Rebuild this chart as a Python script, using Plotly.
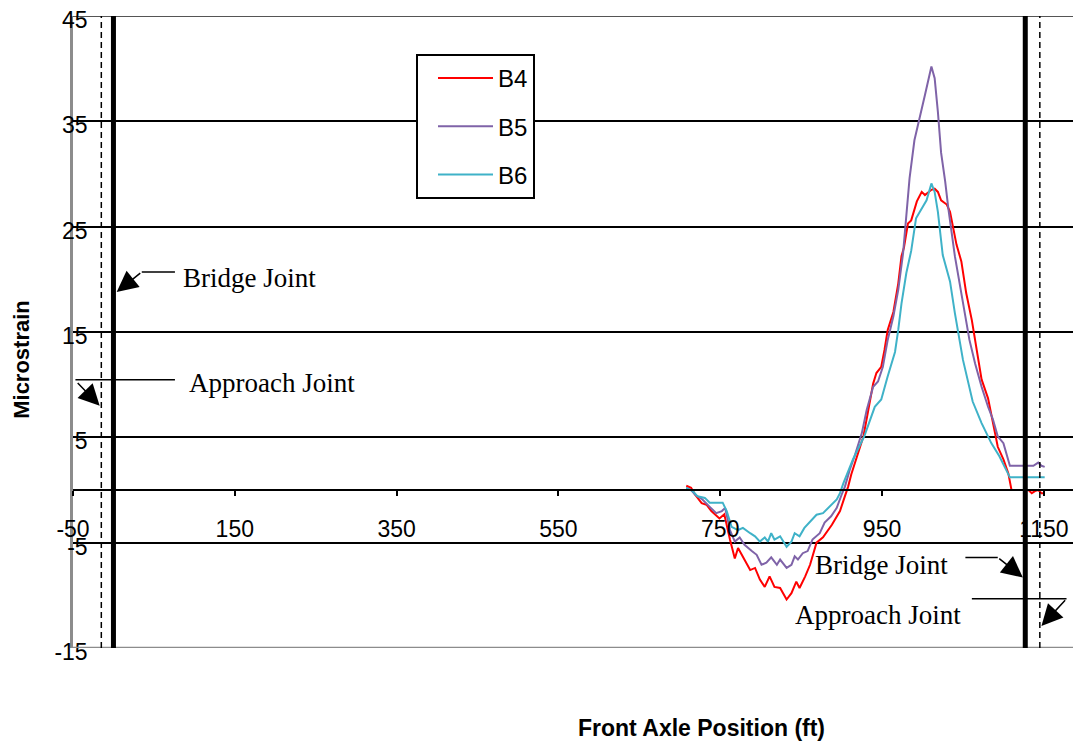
import plotly.graph_objects as go

# ---------------- data ----------------
b4_x = [708, 714, 719, 727, 733, 739, 749, 755, 762, 768, 772, 778, 787, 793, 799, 805, 811, 817,
        824, 832, 838, 844, 848, 855, 861, 869, 877, 888, 898, 904, 908, 912, 918, 927, 933, 939,
        943, 949, 953, 957, 964, 970, 974, 977, 982, 986, 993, 999, 1003, 1007, 1011, 1015, 1019,
        1023, 1030, 1034, 1038, 1042, 1048, 1054, 1061, 1067, 1073, 1081, 1087, 1093, 1100, 1106,
        1110, 1131, 1135, 1139, 1143, 1147, 1151]
b4_y = [0.4, 0.2, -0.45, -1.25, -1.4, -2.0, -2.7, -2.3, -4.7, -6.5, -5.5, -6.3, -7.6, -7.4, -8.5,
        -9.2, -8.2, -9.2, -9.3, -10.4, -9.8, -8.7, -9.3, -8.2, -7.1, -5.0, -4.5, -3.3, -2.0, -0.6,
        0.3, 1.5, 2.9, 5.1, 7.6, 10.1, 11.1, 11.7, 13.3, 15.2, 16.9, 19.6, 22.2, 23.0, 25.3, 25.6,
        27.4, 28.3, 28.0, 28.3, 28.5, 28.6, 28.3, 27.5, 27.1, 26.4, 24.8, 23.3, 21.7, 18.7, 16.1,
        13.3, 10.5, 8.7, 6.35, 4.1, 2.9, 1.6, 0.0, 0.0, -0.3, -0.1, 0.0, -0.3, -0.3]

b5_x = [708, 714, 719, 728, 737, 745, 752, 756, 762, 768, 774, 780, 789, 795, 801, 807, 813, 820,
        824, 832, 838, 842, 846, 852, 858, 864, 873, 879, 887, 894, 900, 904, 910, 916, 925, 931,
        939, 945, 951, 957, 964, 970, 976, 984, 990, 997, 1003, 1011, 1015, 1019, 1023, 1028, 1032,
        1040, 1046, 1052, 1058, 1065, 1073, 1081, 1087, 1093, 1100, 1108, 1137, 1143, 1147, 1151]
b5_y = [0.2, 0.0, -0.45, -0.9, -1.6, -2.2, -2.0, -1.7, -3.8, -4.9, -4.5, -5.2, -5.8, -6.15, -7.1,
        -6.9, -6.4, -7.1, -6.6, -7.4, -7.1, -6.3, -6.6, -6.0, -5.8, -4.7, -4.1, -3.1, -2.5, -1.7,
        -0.45, 0.3, 1.9, 3.2, 5.4, 7.6, 9.8, 10.3, 11.7, 14.25, 16.5, 19.0, 22.5, 29.6, 33.2, 35.4,
        37.5, 40.2, 39.1, 35.9, 32.0, 29.3, 26.7, 22.2, 19.6, 16.8, 14.25, 12.0, 9.8, 7.9, 6.7, 5.1,
        4.45, 2.3, 2.3, 2.6, 2.3, 2.2]

b6_x = [708, 716, 722, 731, 737, 753, 758, 764, 772, 778, 787, 793, 799, 805, 809, 813, 817, 824,
        832, 838, 842, 848, 854, 863, 869, 877, 885, 894, 898, 902, 914, 928, 941, 949, 957, 966,
        970, 974, 980, 986, 992, 999, 1005, 1011, 1015, 1019, 1023, 1025, 1034, 1040, 1050, 1062,
        1073, 1079, 1085, 1095, 1108, 1151]
b6_y = [0.2, -0.1, -0.6, -0.75, -1.2, -1.2, -2.0, -3.5, -3.8, -3.6, -4.1, -4.4, -4.9, -4.5, -4.9,
        -4.1, -4.7, -4.4, -5.4, -4.9, -4.1, -4.4, -3.6, -2.8, -2.35, -2.2, -1.6, -0.9, -0.3, 0.6,
        2.9, 5.1, 7.9, 8.6, 10.8, 13.1, 15.2, 17.7, 20.6, 22.7, 25.8, 26.7, 27.5, 29.1, 28.3, 26.4,
        23.6, 22.3, 19.8, 16.8, 12.35, 8.4, 6.35, 5.4, 4.45, 3.2, 1.2, 1.2]

series_names = ["B4", "B5", "B6"]
series_colors = ["#FF0000", "#7F63A8", "#3FB2C8"]

bridge_joints = [0, 1127]       # ft, thick solid lines
approach_joints = [-15, 1145]   # ft, dashed lines

x_range = [-50, 1186]
y_range = [-15, 45]
x_tickvals = [-50, 150, 350, 550, 750, 950, 1150]
x_ticktext = ["-50", "150", "350", "550", "750", "950", "1150"]
y_tickvals = [-15, -5, 5, 15, 25, 35, 45]
y_ticktext = ["-15", "-5", "5", "15", "25", "35", "45"]

# ---------------- figure ----------------
fig = go.Figure()
for name, xs, ys, col in zip(series_names, [b4_x, b5_x, b6_x], [b4_y, b5_y, b6_y], series_colors):
    fig.add_trace(go.Scatter(x=xs, y=ys, mode="lines", name=name, legendgroup=name,
                             line=dict(color=col, width=2)))

shapes = []
# plot frame top (dark) and bottom (gray)
shapes.append(dict(type="line", xref="paper", yref="y", x0=0, x1=1, y0=y_range[1], y1=y_range[1],
                   line=dict(color="#555555", width=2), layer="below"))
shapes.append(dict(type="line", xref="paper", yref="y", x0=0, x1=1, y0=y_range[0], y1=y_range[0],
                   line=dict(color="#8c8c8c", width=2.5)))
for xj in bridge_joints:
    shapes.append(dict(type="line", xref="x", yref="y", x0=xj, x1=xj, y0=y_range[0], y1=y_range[1],
                       line=dict(color="black", width=5)))
for xj in approach_joints:
    shapes.append(dict(type="line", xref="x", yref="y", x0=xj, x1=xj, y0=y_range[0], y1=y_range[1],
                       line=dict(color="black", width=1.5, dash="6px,4px")))
# callout leader segments
leaders = [((35, 20.7), (76, 20.7)), ((-47, 10.46), (76, 10.46)),
           ((1053, -6.4), (1093, -6.4)), ((1061, -10.32), (1178, -10.32))]
for (x0, y0), (x1, y1) in leaders:
    shapes.append(dict(type="line", xref="x", yref="y", x0=x0, y0=y0, x1=x1, y1=y1,
                       line=dict(color="black", width=1.5)))

serif = "Times New Roman, Liberation Serif, serif"
annos = []
arrows = [((4, 18.8), (35, 20.7)), ((-17, 8.0), (-46, 10.3)),
          ((1124, -8.3), (1093, -6.4)), ((1147, -12.9), (1178, -10.32))]
for (hx, hy), (tx, ty) in arrows:
    annos.append(dict(x=hx, y=hy, ax=tx, ay=ty, xref="x", yref="y", axref="x", ayref="y",
                      text="", showarrow=True, arrowhead=2, arrowsize=2.8, arrowwidth=1.5,
                      arrowcolor="black"))
labels = [("Bridge Joint", 84, 20.1, "left"), ("Approach Joint", 91, 10.17, "left"),
          ("Bridge Joint", 1034, -7.1, "right"), ("Approach Joint", 1050, -11.84, "right")]
for t, x, y, xa in labels:
    annos.append(dict(x=x, y=y, xref="x", yref="y", text=t, showarrow=False, xanchor=xa,
                      yanchor="middle", font=dict(family=serif, size=27, color="black")))

annos.append(dict(x=0.628, y=-0.127, xref="paper", yref="paper", text="<b>Front Axle Position (ft)</b>",
                  showarrow=False, xanchor="center", yanchor="middle",
                  font=dict(family="Arial, Liberation Sans, sans-serif", size=23, color="black")))
annos.append(dict(x=-0.051, y=0.456, xref="paper", yref="paper", text="<b>Microstrain</b>",
                  showarrow=False, textangle=-90, xanchor="center", yanchor="middle",
                  font=dict(family="Arial, Liberation Sans, sans-serif", size=22, color="black")))

fig.update_layout(
    width=1073, height=746,
    margin=dict(l=73, r=0, t=16, b=98, autoexpand=False),
    paper_bgcolor="white", plot_bgcolor="white",
    font=dict(family="Arial, Liberation Sans, sans-serif", size=23, color="black"),
    showlegend=True,
    legend=dict(x=0.343, y=0.94, xanchor="left", yanchor="top", bgcolor="white",
                bordercolor="black", borderwidth=2, font=dict(size=24),
                tracegroupgap=14, itemwidth=55, indentation=15),
    shapes=shapes, annotations=annos,
    xaxis=dict(range=x_range, tickvals=x_tickvals, ticktext=x_ticktext, showgrid=False,
               zeroline=False, automargin=False,
               anchor="free", position=(0 - y_range[0]) / (y_range[1] - y_range[0]),
               showline=True, linecolor="black", linewidth=2,
               ticks="outside", ticklen=5, tickwidth=1.5, tickcolor="black",
               ticklabelstandoff=13, tickfont=dict(size=23)),
    yaxis=dict(range=y_range, tickvals=y_tickvals, ticktext=y_ticktext, showgrid=True,
               gridcolor="black", automargin=False,
               gridwidth=1.5, zeroline=False, showline=True, linecolor="#8c8c8c", linewidth=2.5,
               ticks="", ticklabelstandoff=-22, ticklabelshift=4, tickfont=dict(size=23)),
)

fig.write_html("out.html", config={"displayModeBar": False},
               post_script="document.body.style.margin='0';document.body.style.overflow='hidden';")
